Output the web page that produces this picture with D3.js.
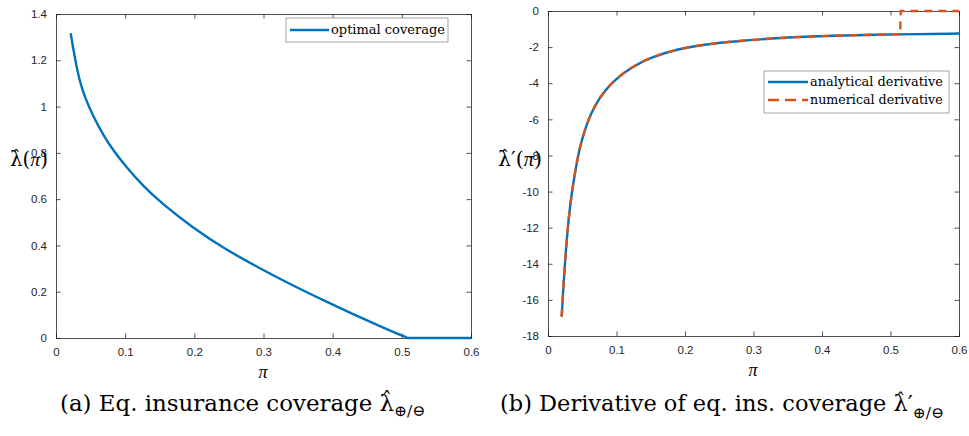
<!DOCTYPE html>
<html><head><meta charset="utf-8">
<script src="https://cdn.jsdelivr.net/npm/d3@7"></script>
<style>body{margin:0;background:#fff}svg{display:block}</style>
</head><body>
<svg id="c" width="969" height="436"></svg>
<script>
// ---- data ----
const piA  = [0.0212,0.0299,0.0356,0.0419,0.0539,0.0684,0.0828,0.1021,0.1262,0.1503,0.1984,0.2467,0.2948,0.3429,0.3911,0.4393,0.4875,0.509,0.6];
const lamA = [1.3165,1.165,1.098,1.040,0.956,0.877,0.810,0.737,0.656,0.588,0.474,0.380,0.301,0.226,0.157,0.0893,0.026,0,0];

const piB = [0.02,0.0224,0.0258,0.0297,0.0346,0.0419,0.0467,0.0565,0.0686,0.0832,0.0978,0.122,0.151,0.190,0.229,0.266,0.339,0.412,0.514,0.6];
const analyticB = [-16.93,-15.27,-13.42,-11.62,-10.05,-8.40,-7.50,-6.22,-5.21,-4.40,-3.80,-3.10,-2.55,-2.10,-1.85,-1.70,-1.48,-1.36,-1.29,-1.25];
const piNum = [0.02,0.0224,0.0258,0.0297,0.0346,0.0419,0.0467,0.0565,0.0686,0.0832,0.0978,0.122,0.151,0.190,0.229,0.266,0.339,0.412,0.514,0.515,0.6];
const numericB = [-16.93,-15.27,-13.42,-11.62,-10.05,-8.40,-7.50,-6.22,-5.21,-4.40,-3.80,-3.10,-2.55,-2.10,-1.85,-1.70,-1.48,-1.36,-1.29,0,0];

const xTicks = [0,0.1,0.2,0.3,0.4,0.5,0.6];
const yTicksA = [0,0.2,0.4,0.6,0.8,1,1.2,1.4];
const yTicksB = [0,-2,-4,-6,-8,-10,-12,-14,-16,-18];

const BLUE = "#0072BD", ORANGE = "#D95319", AX = "#262626";
const svg = d3.select("#c");
const serif = "'DejaVu Serif','Liberation Serif',serif";
const tserif = "'Liberation Serif','DejaVu Serif',serif";
const sans = "'Liberation Sans',Arial,sans-serif";

function fit(sel, w){
  const n = sel.node(); const fs = +sel.attr("font-size");
  const cur = n.getComputedTextLength();
  sel.attr("font-size", fs*w/cur);
  return sel;
}
function hat(sel, idx, dx, lift){
  const n = sel.node(); const e = n.getExtentOfChar(idx);
  const fs = +sel.attr("font-size");
  const base = +sel.attr("y");
  d3.select(n.parentNode).append("text")
    .attr("x", e.x + e.width/2 + dx).attr("y", base - lift*fs)
    .attr("text-anchor","middle").attr("font-family",serif).attr("font-size",fs*0.85).text("ˆ");
}

function panel(o){
  const x = d3.scaleLinear().domain([0,0.6]).range([o.x0,o.x1]);
  const y = d3.scaleLinear().domain(o.yd).range([o.y1,o.y0]);
  const g = svg.append("g");
  const fmt = d => String(+d.toFixed(2));
  const tl = 4.5;
  g.append("g").attr("transform",`translate(0,${o.y1})`)
    .call(d3.axisBottom(x).tickValues(xTicks).tickSize(-tl).tickPadding(10).tickFormat(fmt));
  g.append("g").attr("transform",`translate(0,${o.y0})`)
    .call(d3.axisTop(x).tickValues(xTicks).tickSize(-tl).tickFormat(""));
  g.append("g").attr("transform",`translate(${o.x0},0)`)
    .call(d3.axisLeft(y).tickValues(o.yt).tickSize(-tl).tickPadding(9).tickFormat(fmt));
  g.append("g").attr("transform",`translate(${o.x1},0)`)
    .call(d3.axisRight(y).tickValues(o.yt).tickSize(-tl).tickFormat(""));
  g.selectAll(".domain").attr("stroke",AX).attr("stroke-width",0.8);
  g.selectAll(".tick line").attr("stroke",AX).attr("stroke-width",0.8);
  g.selectAll(".tick text").attr("font-family",sans).attr("font-size",11.5).attr("fill",AX);
  return {x,y,g};
}

function pathFrom(xs, ys, x, y, splitX){
  const pts = xs.map((v,i)=>[v,ys[i]]);
  const head = pts.filter(p=>p[0]<=splitX);
  const tail = pts.filter(p=>p[0]>=splitX);
  const sm = d3.line().x(p=>x(p[0])).y(p=>y(p[1])).curve(d3.curveBasis);
  const li = d3.line().x(p=>x(p[0])).y(p=>y(p[1]));
  return sm(head) + (tail.length>1 ? li(tail).replace(/^M/,"L") : "");
}

// ---- panel A ----
const A = panel({x0:56,x1:471,y0:14,y1:338,yd:[0,1.4],yt:yTicksA});
A.g.append("path").attr("d",pathFrom(piA,lamA,A.x,A.y,0.509)).attr("fill","none")
  .attr("stroke",BLUE).attr("stroke-width",2.4).attr("stroke-linejoin","round");

A.g.append("rect").attr("x",286).attr("y",18).attr("width",162).attr("height",24)
  .attr("fill","#fff").attr("stroke","#8c8c8c").attr("stroke-width",0.8);
A.g.append("line").attr("x1",290).attr("x2",329).attr("y1",30).attr("y2",30).attr("stroke",BLUE).attr("stroke-width",2.4);
fit(A.g.append("text").attr("x",331).attr("y",34).attr("font-family",serif).attr("font-size",12).text("optimal coverage"),114);

A.g.append("text").attr("x",263).attr("y",378).attr("text-anchor","middle").attr("font-family",tserif)
  .attr("font-style","italic").attr("font-size",18).text("π");
const ylA = A.g.append("text").attr("x",10).attr("y",166).attr("font-family",serif).attr("font-size",17)
  .html('λ(<tspan font-family="Liberation Serif" font-style="italic">π</tspan>)');
fit(ylA,38); hat(ylA,0,0,0.2);
const capA = A.g.append("text").attr("x",60).attr("y",411).attr("font-family",serif).attr("font-size",19)
  .html('(a) Eq. insurance coverage λ<tspan font-size="15.5" dy="5">⊕/⊖</tspan>');
fit(capA,372); hat(capA,27,0,0.16);

// ---- panel B ----
const B = panel({x0:548,x1:959,y0:11,y1:336,yd:[-18,0],yt:yTicksB});
B.g.append("path").attr("d",pathFrom(piB,analyticB,B.x,B.y,1)).attr("fill","none")
  .attr("stroke",BLUE).attr("stroke-width",2.4);
B.g.append("path").attr("d",pathFrom(piNum,numericB,B.x,B.y,0.514)).attr("fill","none")
  .attr("stroke",ORANGE).attr("stroke-width",2.4).attr("stroke-dasharray","8,6");

B.g.append("rect").attr("x",764).attr("y",71).attr("width",185).attr("height",42)
  .attr("fill","#fff").attr("stroke","#8c8c8c").attr("stroke-width",0.8);
B.g.append("line").attr("x1",768).attr("x2",808).attr("y1",82).attr("y2",82).attr("stroke",BLUE).attr("stroke-width",2.4);
B.g.append("line").attr("x1",768).attr("x2",808).attr("y1",100).attr("y2",100).attr("stroke",ORANGE).attr("stroke-width",2.4).attr("stroke-dasharray","11,6");
fit(B.g.append("text").attr("x",810).attr("y",86).attr("font-family",serif).attr("font-size",12).text("analytical derivative"),133);
fit(B.g.append("text").attr("x",810).attr("y",104).attr("font-family",serif).attr("font-size",12).text("numerical derivative"),133);

B.g.append("text").attr("x",753).attr("y",376).attr("text-anchor","middle").attr("font-family",tserif)
  .attr("font-style","italic").attr("font-size",18).text("π");
const ylB = B.g.append("text").attr("x",498).attr("y",166).attr("font-family",serif).attr("font-size",17)
  .html('λ′(<tspan font-family="Liberation Serif" font-style="italic">π</tspan>)');
fit(ylB,44); hat(ylB,0,0,0.2);
const capB = B.g.append("text").attr("x",500).attr("y",411).attr("font-family",serif).attr("font-size",19)
  .html('(b) Derivative of eq. ins. coverage λ′<tspan font-size="15.5" dy="7">⊕/⊖</tspan>');
fit(capB,450); hat(capB,36,0,0.16);
</script>
</body></html>
